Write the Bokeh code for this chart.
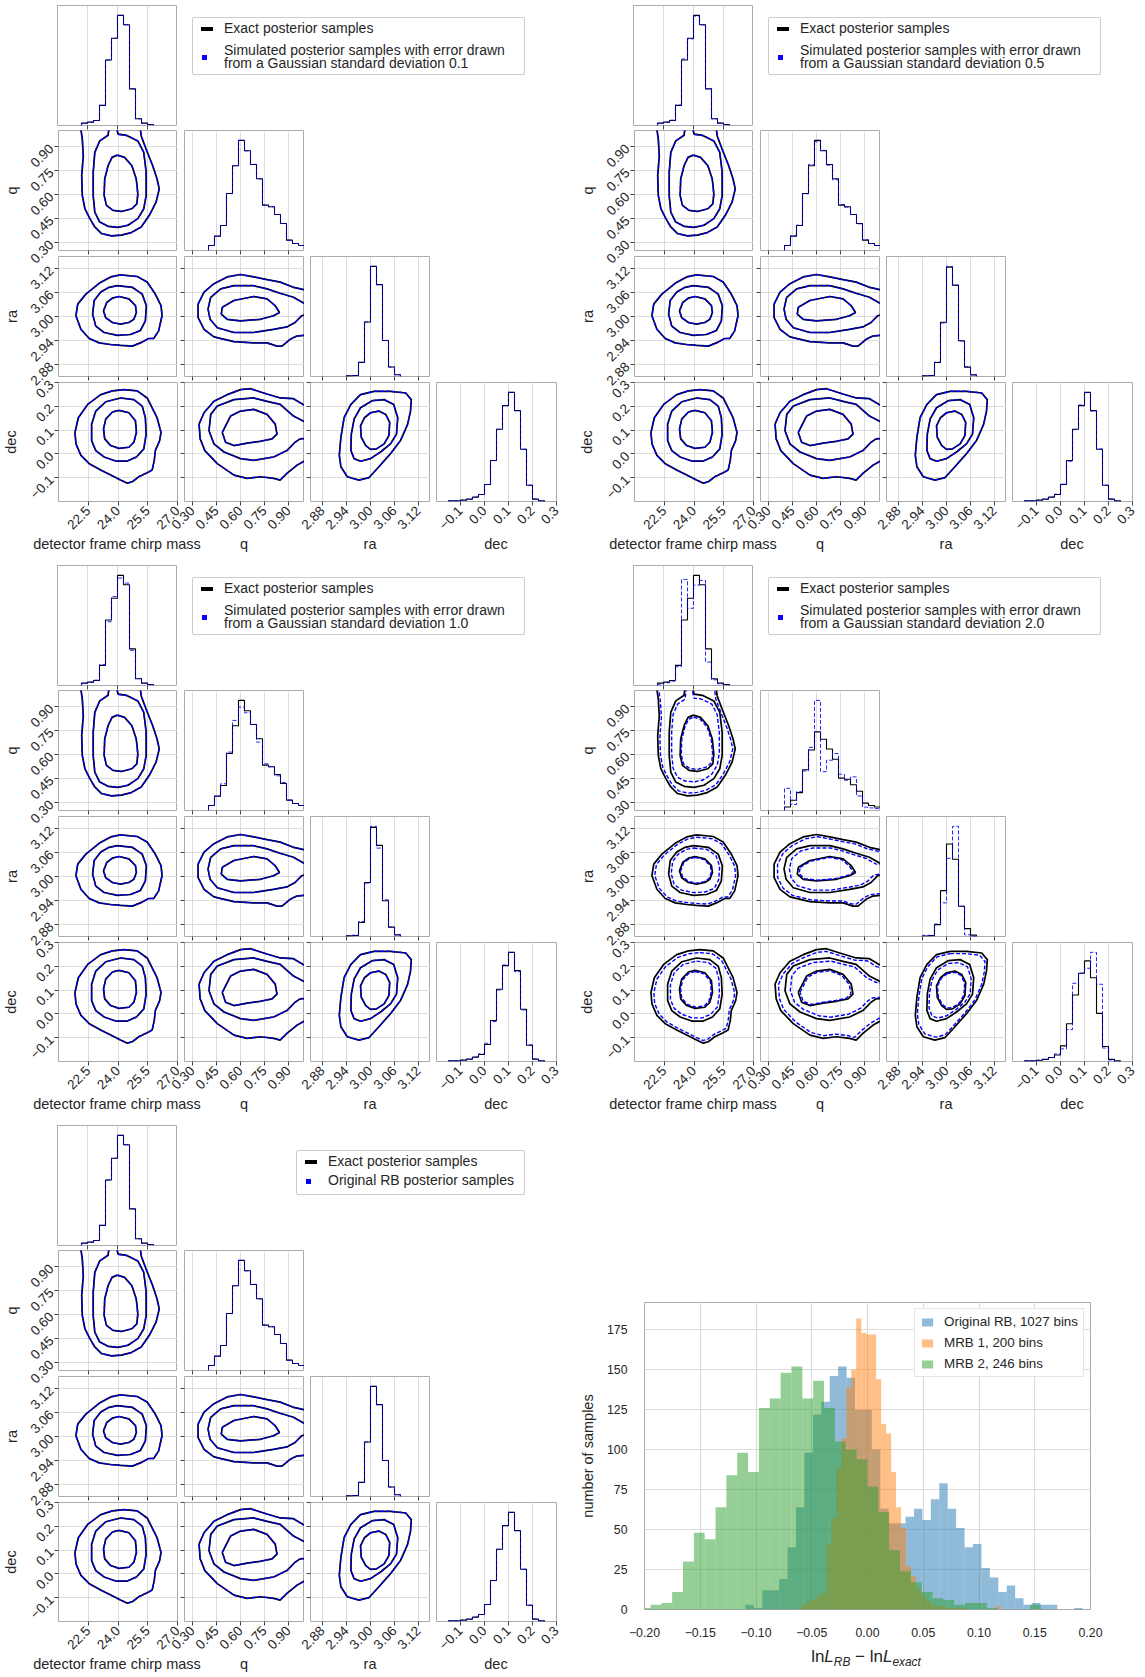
import math
from bokeh.plotting import figure
from bokeh.layouts import row, column
from bokeh.models import (Range1d, FixedTicker, CustomJSTickFormatter, Div, Spacer,
                          Legend, LegendItem)
from bokeh.embed import file_html
from bokeh.resources import INLINE

FONT = "Liberation Sans"
TXT = "#262626"
FRAME = "#aaaaaa"
GRID = "#dcdcdc"
SIM_BLUE = "#0000ff"

# ------------------------------------------------------------------ data
PARAMS = ["mc", "q", "ra", "dec"]
AXIS_LABELS = ["detector frame chirp mass", "q", "ra", "dec"]
RANGE_MC = (21.0, 27.0)
RANGE_Q = (0.25, 1.0)
RANGE_RA = (2.85, 3.15)
RANGE_DEC = (-0.2, 0.3)
TICKS_MC = [22.5, 24.0, 25.5, 27.0]
TICKS_Q = [0.30, 0.45, 0.60, 0.75, 0.90]
TICKS_RA = [2.88, 2.94, 3.00, 3.06, 3.12]
TICKS_DEC = [-0.1, 0.0, 0.1, 0.2, 0.3]
DECIMALS = [1, 2, 2, 1]

# 1-D marginal histograms (bin edges, counts)
MC_EDGES = [22.2, 22.5, 22.8, 23.1, 23.4, 23.7, 24.0, 24.3, 24.6, 24.9, 25.2, 25.5, 25.8]
MC_EXACT = [7, 10, 15, 60, 195, 260, 328, 300, 109, 20, 7, 3]
Q_EDGES = [0.4, 0.4375, 0.475, 0.5125, 0.55, 0.5875, 0.625, 0.6625, 0.7, 0.7375,
           0.775, 0.8125, 0.85, 0.8875, 0.925, 0.9625, 1.0]
Q_EXACT = [15, 43, 75, 171, 254, 330, 299, 258, 215, 136, 131, 108, 81, 31, 21, 15]
RA_EDGES = [2.94, 2.955, 2.97, 2.985, 3.0, 3.015, 3.03, 3.045, 3.06, 3.075]
RA_EXACT = [2, 3, 42, 162, 327, 273, 107, 28, 5]
DEC_EDGES = [-0.15, -0.125, -0.1, -0.075, -0.05, -0.025, 0.0, 0.025, 0.05, 0.075,
             0.1, 0.125, 0.15, 0.175, 0.2, 0.225, 0.25]
DEC_EXACT = [2, 2, 4, 7, 13, 21, 51, 123, 217, 288, 328, 273, 157, 49, 7, 2]

SIM01_MC = [7, 10, 15, 60, 195, 260, 328, 300, 109, 20, 7, 3]
SIM01_Q = [15, 43, 75, 171, 254, 330, 299, 258, 215, 136, 131, 108, 81, 31, 21, 15]
SIM01_RA = [2, 3, 42, 162, 327, 273, 107, 28, 5]
SIM01_DEC = [2, 2, 4, 7, 13, 21, 51, 123, 217, 288, 328, 273, 157, 49, 7, 2]

SIM05_MC = [7, 10, 16, 61, 198, 258, 326, 300, 110, 20, 7, 3]
SIM05_Q = [15, 44, 76, 170, 258, 326, 300, 256, 212, 138, 130, 108, 80, 32, 21, 15]
SIM05_RA = [2, 3, 43, 160, 329, 272, 106, 29, 5]
SIM05_DEC = [2, 2, 4, 7, 13, 22, 52, 121, 216, 290, 327, 272, 158, 49, 7, 2]

SIM10_MC = [7, 10, 16, 62, 190, 265, 320, 305, 105, 21, 7, 3]
SIM10_Q = [15, 43, 80, 175, 270, 310, 293, 258, 205, 140, 131, 104, 84, 31, 21, 15]
SIM10_RA = [2, 4, 45, 160, 330, 265, 110, 28, 5]
SIM10_DEC = [2, 2, 4, 7, 13, 23, 55, 120, 215, 290, 328, 270, 155, 50, 7, 2]

SIM20_MC = [2, 8, 13, 56, 316, 230, 299, 313, 70, 17, 5, 2]
SIM20_Q = [93, 25, 79, 166, 265, 462, 163, 211, 239, 152, 127, 141, 61, 14, 11, 8]
SIM20_RA = [4, 4, 44, 119, 276, 389, 107, 6, 0]
SIM20_DEC = [2, 2, 4, 7, 13, 25, 41, 104, 255, 288, 304, 356, 252, 44, 5, 0]

RB_MC = [7, 10, 15, 60, 195, 260, 328, 300, 109, 20, 7, 3]
RB_Q = [15, 43, 75, 171, 254, 330, 299, 258, 215, 136, 131, 108, 81, 31, 21, 15]
RB_RA = [2, 3, 42, 162, 327, 273, 107, 28, 5]
RB_DEC = [2, 2, 4, 7, 13, 21, 51, 123, 217, 288, 328, 273, 157, 49, 7, 2]

# 2-D credible contours of the exact samples (inner, middle, outer)
MC_Q_INNER = [(23.97, 0.846), (24.33, 0.832), (24.70, 0.780), (24.92, 0.697), (25.00, 0.604),
              (24.95, 0.542), (24.70, 0.511), (24.17, 0.494), (23.75, 0.501), (23.42, 0.532),
              (23.30, 0.594), (23.33, 0.697), (23.50, 0.780), (23.70, 0.832)]
MC_Q_MIDDLE = [(23.58, 1.05), (23.52, 0.99), (23.50, 0.970), (23.08, 0.935), (22.83, 0.863),
               (22.75, 0.739), (22.75, 0.594), (22.83, 0.490), (23.08, 0.428), (23.50, 0.401),
               (24.00, 0.395), (24.50, 0.408), (25.00, 0.449), (25.30, 0.511), (25.42, 0.594),
               (25.42, 0.739), (25.30, 0.863), (25.00, 0.935), (24.42, 0.970), (24.00, 0.977),
               (23.88, 1.05)]
MC_Q_OUTER = [(22.08, 1.05), (22.20, 0.946), (22.25, 0.842), (22.17, 0.718), (22.20, 0.594),
              (22.33, 0.511), (22.58, 0.449), (22.83, 0.397), (23.17, 0.356), (23.67, 0.341),
              (24.17, 0.346), (24.67, 0.362), (25.17, 0.397), (25.58, 0.470), (25.92, 0.552),
              (26.08, 0.635), (25.97, 0.697), (25.75, 0.780), (25.42, 0.883), (25.17, 0.966),
              (25.08, 1.05)]

MC_RA_INNER = [(24.05, 3.050), (24.55, 3.044), (24.88, 3.027), (24.93, 3.010), (24.80, 2.993),
               (24.55, 2.985), (24.13, 2.981), (23.72, 2.985), (23.38, 2.997), (23.27, 3.014),
               (23.43, 3.035), (23.72, 3.046)]
MC_RA_MIDDLE = [(23.97, 3.077), (24.72, 3.073), (25.22, 3.056), (25.43, 3.027), (25.38, 2.989),
                (25.13, 2.965), (24.63, 2.955), (23.97, 2.953), (23.30, 2.960), (22.88, 2.976),
                (22.72, 3.006), (22.80, 3.040), (23.13, 3.061), (23.55, 3.073)]
MC_RA_OUTER = [(24.13, 3.104), (24.97, 3.100), (25.47, 3.086), (25.88, 3.056), (26.17, 3.027),
               (26.22, 3.002), (26.05, 2.964), (25.80, 2.945), (25.55, 2.945), (25.13, 2.934),
               (24.72, 2.926), (24.13, 2.928), (23.63, 2.930), (23.05, 2.934), (22.55, 2.945),
               (22.13, 2.968), (21.88, 3.002), (21.97, 3.031), (22.38, 3.056), (23.05, 3.083),
               (23.63, 3.099)]

MC_DEC_INNER = [(24.05, 0.183), (24.55, 0.173), (24.88, 0.139), (24.93, 0.090), (24.80, 0.049),
                (24.55, 0.028), (24.05, 0.023), (23.63, 0.035), (23.33, 0.063), (23.27, 0.104),
                (23.38, 0.146), (23.72, 0.176)]
MC_DEC_MIDDLE = [(24.13, 0.235), (24.80, 0.228), (25.22, 0.201), (25.38, 0.152), (25.42, 0.083),
                 (25.30, 0.021), (24.93, -0.013), (24.47, -0.030), (23.88, -0.030), (23.30, -0.013),
                 (22.88, 0.014), (22.67, 0.056), (22.67, 0.125), (22.88, 0.180), (23.38, 0.219)]
MC_DEC_OUTER = [(24.30, 0.270), (24.97, 0.265), (25.47, 0.235), (25.97, 0.152), (26.17, 0.090),
                (26.10, 0.056), (25.88, 0.014), (25.83, -0.027), (25.72, -0.068), (25.47, -0.079),
                (25.05, -0.096), (24.72, -0.117), (24.47, -0.123), (24.13, -0.110), (23.63, -0.089),
                (23.13, -0.068), (22.55, -0.041), (22.13, -0.006), (21.88, 0.042), (21.83, 0.090),
                (22.00, 0.152), (22.47, 0.208), (23.13, 0.249), (23.72, 0.265)]

Q_RA_INNER = [(0.486, 3.023), (0.559, 3.040), (0.683, 3.050), (0.766, 3.044), (0.817, 3.027),
              (0.844, 3.010), (0.807, 3.002), (0.724, 2.993), (0.600, 2.989), (0.517, 2.993),
              (0.480, 3.006)]
Q_RA_MIDDLE = [(1.05, 3.030), (0.997, 3.033), (0.931, 3.048), (0.848, 3.058), (0.766, 3.069),
               (0.683, 3.077), (0.559, 3.077), (0.476, 3.069), (0.414, 3.048), (0.397, 3.019),
               (0.410, 2.993), (0.455, 2.972), (0.559, 2.960), (0.683, 2.960), (0.807, 2.968),
               (0.890, 2.974), (0.941, 2.985), (0.983, 3.002), (1.05, 3.006)]
Q_RA_OUTER = [(1.05, 3.065), (0.997, 3.067), (0.931, 3.073), (0.848, 3.086), (0.766, 3.092),
              (0.683, 3.099), (0.600, 3.105), (0.517, 3.099), (0.434, 3.082), (0.372, 3.061),
              (0.335, 3.031), (0.335, 2.997), (0.372, 2.968), (0.434, 2.949), (0.559, 2.937),
              (0.683, 2.934), (0.766, 2.934), (0.828, 2.926), (0.859, 2.926), (0.910, 2.943),
              (0.952, 2.951), (1.05, 2.955)]

Q_DEC_INNER = [(0.486, 0.090), (0.538, 0.159), (0.600, 0.180), (0.683, 0.187), (0.766, 0.166),
               (0.817, 0.125), (0.828, 0.083), (0.797, 0.063), (0.724, 0.053), (0.641, 0.045),
               (0.559, 0.035), (0.507, 0.049)]
Q_DEC_MIDDLE = [(1.05, 0.130), (0.997, 0.136), (0.931, 0.159), (0.848, 0.208), (0.766, 0.221),
                (0.683, 0.235), (0.559, 0.228), (0.455, 0.201), (0.414, 0.166), (0.403, 0.097),
                (0.434, 0.042), (0.497, 0.008), (0.600, -0.020), (0.683, -0.027), (0.807, -0.013),
                (0.890, 0.014), (0.941, 0.049), (0.972, 0.063), (1.05, 0.067)]
Q_DEC_OUTER = [(1.05, 0.200), (0.997, 0.205), (0.931, 0.232), (0.848, 0.235), (0.745, 0.256),
               (0.662, 0.274), (0.600, 0.270), (0.517, 0.249), (0.434, 0.221), (0.372, 0.173),
               (0.341, 0.125), (0.348, 0.063), (0.377, 0.014), (0.455, -0.041), (0.559, -0.089),
               (0.641, -0.103), (0.724, -0.096), (0.807, -0.103), (0.848, -0.110), (0.890, -0.082),
               (0.952, -0.048), (1.05, -0.010)]

RA_DEC_INNER = [(3.000, 0.173), (3.021, 0.180), (3.038, 0.166), (3.048, 0.132), (3.046, 0.077),
                (3.034, 0.042), (3.015, 0.021), (3.000, 0.019), (2.988, 0.035), (2.977, 0.070),
                (2.975, 0.118), (2.985, 0.152)]
RA_DEC_MIDDLE = [(3.005, 0.224), (3.034, 0.228), (3.058, 0.208), (3.068, 0.152), (3.065, 0.083),
                 (3.050, 0.042), (3.025, 0.008), (3.000, -0.020), (2.975, -0.031), (2.959, -0.020),
                 (2.951, 0.015), (2.952, 0.083), (2.959, 0.146), (2.975, 0.194)]
RA_DEC_OUTER = [(3.009, 0.263), (3.050, 0.263), (3.088, 0.256), (3.102, 0.228), (3.100, 0.180),
                (3.093, 0.125), (3.075, 0.056), (3.050, 0.001), (3.021, -0.054), (2.996, -0.100),
                (2.971, -0.110), (2.942, -0.096), (2.926, -0.054), (2.922, -0.006), (2.926, 0.070),
                (2.934, 0.152), (2.951, 0.208), (2.975, 0.249)]

# simulated contours for sigma = 2.0 differ: shrink factors (inner, middle, outer)
SIM20_CONTOUR_SCALE = [0.93, 0.90, 0.94]

# bottom-right histogram of log-likelihood differences
RB_LEFT, RB_WIDTH = -0.1095, 0.00756
RB_COUNTS = [3, 1, 12, 12, 19, 39, 64, 98, 122, 130, 146, 152, 145, 125, 125, 100, 63, 54,
             54, 58, 63, 56, 69, 79, 63, 51, 39, 41, 26, 20, 11, 15, 7, 3, 4, 3, 3, 0, 0, 1]
MRB1_LEFT, MRB1_WIDTH = -0.0592, 0.004464
MRB1_COUNTS = [3, 5, 6, 8, 10, 41, 57, 88, 107, 139, 150, 182, 173, 172, 172, 144, 116, 110,
               86, 64, 51, 27, 21, 13, 9, 5, 3, 2, 2, 1, 1, 1, 1, 0, 0, 0, 0, 0, 0, 2]
MRB2_LEFT, MRB2_WIDTH = -0.2044, 0.00973
MRB2_COUNTS = [1, 3, 4, 11, 30, 48, 44, 64, 84, 98, 86, 126, 132, 148, 152, 132, 143, 126,
               105, 100, 94, 77, 61, 37, 24, 17, 11, 7, 6, 3, 4, 4, 1, 0, 0, 0, 3]
HIST_LABELS = ["Original RB, 1027 bins", "MRB 1, 200 bins", "MRB 2, 246 bins"]
HIST_COLORS = ["#1f77b4", "#ff7f0e", "#2ca02c"]
HIST_XTICKS = [-0.20, -0.15, -0.10, -0.05, 0.0, 0.05, 0.10, 0.15, 0.20]
HIST_YTICKS = [0, 25, 50, 75, 100, 125, 150, 175]

# ------------------------------------------------------------------ tables
RANGES = [RANGE_MC, RANGE_Q, RANGE_RA, RANGE_DEC]
TICKS = [TICKS_MC, TICKS_Q, TICKS_RA, TICKS_DEC]
EDGES = [MC_EDGES, Q_EDGES, RA_EDGES, DEC_EDGES]
EXACT = [MC_EXACT, Q_EXACT, RA_EXACT, DEC_EXACT]
CONTOURS = {
    (0, 1): [(MC_Q_INNER, True), (MC_Q_MIDDLE, False), (MC_Q_OUTER, False)],
    (0, 2): [(MC_RA_INNER, True), (MC_RA_MIDDLE, True), (MC_RA_OUTER, True)],
    (0, 3): [(MC_DEC_INNER, True), (MC_DEC_MIDDLE, True), (MC_DEC_OUTER, True)],
    (1, 2): [(Q_RA_INNER, True), (Q_RA_MIDDLE, False), (Q_RA_OUTER, False)],
    (1, 3): [(Q_DEC_INNER, True), (Q_DEC_MIDDLE, False), (Q_DEC_OUTER, False)],
    (2, 3): [(RA_DEC_INNER, True), (RA_DEC_MIDDLE, True), (RA_DEC_OUTER, True)],
}

SIM_TEXT = "Simulated posterior samples with error drawn<br>from a Gaussian standard deviation {}"
CORNERS = [
    dict(sim=[SIM01_MC, SIM01_Q, SIM01_RA, SIM01_DEC], scale=None,
         items=[("bar", 11, "Exact posterior samples"), ("sq", 39, SIM_TEXT.format("0.1"))],
         box=(333, 58), pad=20, lab_h=24),
    dict(sim=[SIM05_MC, SIM05_Q, SIM05_RA, SIM05_DEC], scale=None,
         items=[("bar", 11, "Exact posterior samples"), ("sq", 39, SIM_TEXT.format("0.5"))],
         box=(333, 58), pad=13, lab_h=24),
    dict(sim=[SIM10_MC, SIM10_Q, SIM10_RA, SIM10_DEC], scale=None,
         items=[("bar", 11, "Exact posterior samples"), ("sq", 39, SIM_TEXT.format("1.0"))],
         box=(333, 58), pad=20, lab_h=24),
    dict(sim=[SIM20_MC, SIM20_Q, SIM20_RA, SIM20_DEC], scale=SIM20_CONTOUR_SCALE,
         items=[("bar", 11, "Exact posterior samples"), ("sq", 39, SIM_TEXT.format("2.0"))],
         box=(333, 58), pad=13, lab_h=24),
    dict(sim=[RB_MC, RB_Q, RB_RA, RB_DEC], scale=None,
         items=[("bar", 11, "Exact posterior samples"), ("sq", 30, "Original RB posterior samples")],
         box=(229, 45), pad=20, lab_h=21),
]

# ------------------------------------------------------------------ helpers
FRAME_SIZE = 120
COL_LEFT = [57, 7, 6, 6]
BOTTOM_ROW_BORDER = 34


def num_fmt(dec):
    return CustomJSTickFormatter(
        code=f"const s = Math.abs(tick).toFixed({dec}); return (tick < -1e-9 ? '\\u2212' : '') + s;")


def style_axis(ax, ticks, dec, show):
    ax.ticker = FixedTicker(ticks=ticks)
    ax.axis_line_color = None
    ax.major_tick_line_color = "#444444"
    ax.major_tick_out = 4
    ax.major_tick_in = 0
    ax.minor_tick_line_color = None
    ax.major_label_text_font = FONT
    ax.major_label_text_color = TXT
    ax.axis_label_text_font = FONT
    ax.axis_label_text_font_style = "normal"
    ax.axis_label_text_font_size = "14.5px"
    ax.axis_label_text_color = TXT
    if show:
        ax.formatter = num_fmt(dec)
        ax.major_label_text_font_size = "13.5px"
        ax.major_label_orientation = math.pi / 4
        ax.major_label_standoff = 3
    else:
        ax.formatter = CustomJSTickFormatter(code="return '';")
        ax.major_label_text_font_size = "0px"
        ax.major_label_standoff = 0


def step_xy(edges, counts):
    xs, ys = [edges[0]], [0]
    for i, c in enumerate(counts):
        xs += [edges[i], edges[i + 1]]
        ys += [c, c]
    xs.append(edges[-1])
    ys.append(0)
    return xs, ys


def scaled(pts, s):
    cx = sum(p[0] for p in pts) / len(pts)
    cy = sum(p[1] for p in pts) / len(pts)
    return [(cx + (x - cx) * s, cy + (y - cy) * s) for x, y in pts]


def panel(cfg, r, c):
    diag = r == c
    left = COL_LEFT[c]
    top = 5 if r == 0 else 0
    bottom = BOTTOM_ROW_BORDER if r == 3 else (5 if r == 0 else 6)
    # extra transparent canvas (overlapping neighbours) so rotated tick labels are not cut
    ext_b = 16 if r in (1, 2) else 0
    ext_t = 8 if r == 3 else 0
    ext_l = 12 if (r == 3 and c >= 1) else 0
    ext_r = 6 if (r == 3 and c in (0, 3)) else 0
    if diag:
        ymax = 1.09 * max(max(EXACT[c]), max(cfg["sim"][c]))
        yr = Range1d(0, ymax)
    else:
        yr = Range1d(*RANGES[r])
    p = figure(width=left + ext_l + FRAME_SIZE + ext_r,
               height=top + ext_t + FRAME_SIZE + bottom + ext_b,
               x_range=Range1d(*RANGES[c]), y_range=yr,
               output_backend="svg", toolbar_location=None,
               y_axis_location=None if diag else "left",
               min_border_left=left + ext_l, min_border_right=ext_r,
               min_border_top=top + ext_t, min_border_bottom=bottom + ext_b,
               margin=(-ext_t, -ext_r, -ext_b, -ext_l), frame_align=False)
    p.outline_line_color = FRAME
    p.outline_line_width = 1
    p.background_fill_color = "white"
    p.border_fill_alpha = 0.0
    style_axis(p.xaxis[0], TICKS[c], DECIMALS[c], r == 3)
    p.xgrid.grid_line_color = GRID
    p.xgrid.grid_line_width = 1
    if diag:
        p.ygrid.visible = False
        xs, ys = step_xy(EDGES[c], EXACT[c])
        p.line(xs, ys, line_color="black", line_width=1.1)
        xs, ys = step_xy(EDGES[c], cfg["sim"][c])
        p.line(xs, ys, line_color=SIM_BLUE, line_width=1.0, line_dash="4 2", line_alpha=0.85)
    else:
        style_axis(p.yaxis[0], TICKS[r], DECIMALS[r], c == 0)
        p.ygrid.grid_line_color = GRID
        p.ygrid.grid_line_width = 1
        if c == 0:
            p.yaxis.axis_label = AXIS_LABELS[r]
            p.yaxis.axis_label_standoff = 4
        levels = CONTOURS[(c, r)]
        for pts, closed in levels:
            pp = pts + [pts[0]] if closed else pts
            p.line([q[0] for q in pp], [q[1] for q in pp], line_color="black", line_width=1.7)
        for k, (pts, closed) in enumerate(levels):
            pp = pts + [pts[0]] if closed else pts
            if cfg["scale"] is not None:
                pp = scaled(pp, cfg["scale"][k])
            p.line([q[0] for q in pp], [q[1] for q in pp], line_color=SIM_BLUE,
                   line_width=1.4, line_dash="4 2")
    return p


def legend_div(cfg, width, height):
    bw, bh = cfg["box"]
    parts = []
    for kind, cy, html in cfg["items"]:
        if kind == "bar":
            sw = (f'<div style="position:absolute;left:8px;top:{cy - 2}px;width:12px;height:4px;'
                  f'background:#000;"></div>')
        else:
            sw = (f'<div style="position:absolute;left:9px;top:{cy - 2.5}px;width:5px;height:5px;'
                  f'background:{SIM_BLUE};"></div>')
        n = html.count("<br>") + 1
        lh = 13.4
        parts.append(sw + f'<div style="position:absolute;left:31px;top:{cy - n * lh / 2:.1f}px;'
                          f'line-height:{lh}px;font-size:14px;white-space:nowrap;color:{TXT};">{html}</div>')
    box = (f'<div style="position:absolute;left:{348 - bw}px;top:{75 - bh}px;width:{bw}px;'
           f'height:{bh}px;box-sizing:border-box;border:1px solid #cccccc;border-radius:2px;'
           f'background:#fff;">' + "".join(parts) + '</div>')
    text = (f'<div style="position:relative;width:{width}px;height:{height}px;'
            f'font-family:\'{FONT}\',sans-serif;">{box}</div>')
    return Div(text=text, width=width, height=height, margin=0)


def xlabels_div(width, height):
    centers = [57 + 60, 184 + 60, 310 + 60, 436 + 60]
    spans = "".join(
        f'<div style="position:absolute;left:{cx}px;top:0px;transform:translateX(-50%);'
        f'white-space:nowrap;font-size:14.5px;line-height:17px;color:{TXT};">{lab}</div>'
        for cx, lab in zip(centers, AXIS_LABELS))
    text = (f'<div style="position:relative;width:{width}px;height:{height}px;'
            f'font-family:\'{FONT}\',sans-serif;">{spans}</div>')
    return Div(text=text, width=width, height=height, margin=0)


def corner(cfg):
    pad = cfg["pad"]
    r0 = row(panel(cfg, 0, 0), legend_div(cfg, 379 + pad, 130))
    r1 = row(panel(cfg, 1, 0), panel(cfg, 1, 1), Spacer(width=252 + pad, height=126))
    r2 = row(panel(cfg, 2, 0), panel(cfg, 2, 1), panel(cfg, 2, 2), Spacer(width=126 + pad, height=126))
    r3 = row(panel(cfg, 3, 0), panel(cfg, 3, 1), panel(cfg, 3, 2), panel(cfg, 3, 3),
             Spacer(width=pad, height=120 + BOTTOM_ROW_BORDER))
    return column(r0, r1, r2, r3, xlabels_div(556 + pad, cfg["lab_h"]))


def loglike_hist():
    h = figure(width=569, height=519, x_range=Range1d(-0.2, 0.2), y_range=Range1d(0, 192),
               output_backend="svg", toolbar_location=None,
               min_border_left=66, min_border_right=55, min_border_top=182, min_border_bottom=28)
    h.outline_line_color = FRAME
    h.background_fill_color = "white"
    for ax, ticks, dec in ((h.xaxis[0], HIST_XTICKS, 2), (h.yaxis[0], HIST_YTICKS, 0)):
        ax.ticker = FixedTicker(ticks=ticks)
        ax.formatter = num_fmt(dec)
        ax.axis_line_color = None
        ax.major_tick_line_color = None
        ax.minor_tick_line_color = None
        ax.major_label_text_font = FONT
        ax.major_label_text_font_size = "12.3px"
        ax.major_label_text_color = TXT
        ax.axis_label_text_font = FONT
        ax.axis_label_text_font_style = "normal"
        ax.axis_label_text_font_size = "14.5px"
        ax.axis_label_text_color = TXT
    h.xaxis.major_label_standoff = 12
    h.yaxis.major_label_standoff = 11
    h.yaxis.axis_label = "number of samples"
    h.yaxis.axis_label_standoff = 8
    h.xgrid.grid_line_color = GRID
    h.ygrid.grid_line_color = GRID
    h.xgrid.grid_line_width = 1.2
    h.ygrid.grid_line_width = 1.2
    items = []
    for (left0, w, counts), label, color in zip(
            [(RB_LEFT, RB_WIDTH, RB_COUNTS), (MRB1_LEFT, MRB1_WIDTH, MRB1_COUNTS),
             (MRB2_LEFT, MRB2_WIDTH, MRB2_COUNTS)], HIST_LABELS, HIST_COLORS):
        lefts = [left0 + i * w for i in range(len(counts))]
        rights = [l + w for l in lefts]
        rr = h.quad(left=lefts, right=rights, bottom=0, top=counts,
                    fill_color=color, fill_alpha=0.5, line_color=None)
        items.append(LegendItem(label=label, renderers=[rr]))
    leg = Legend(items=items, location="top_right", margin=6, padding=5,
                 glyph_width=14, glyph_height=10, label_height=10, spacing=6,
                 label_standoff=10, label_text_font=FONT, label_text_font_size="13.4px",
                 label_text_color=TXT, border_line_color="#cccccc", border_line_width=1,
                 background_fill_alpha=1.0)
    h.add_layout(leg)
    xlabel = Div(text=(f'<div style="width:448px;text-align:center;padding-top:8px;'
                       f'font-family:\'{FONT}\',sans-serif;font-size:17px;line-height:20px;color:{TXT};">'
                       'ln<i>L</i><sub style="font-size:70%;"><i>RB</i></sub> &minus; '
                       'ln<i>L</i><sub style="font-size:70%;"><i>exact</i></sub></div>'),
                 width=448, height=38, margin=0)
    return column(h, row(Spacer(width=66, height=38), xlabel))


page = column(
    row(corner(CORNERS[0]), corner(CORNERS[1])),
    row(corner(CORNERS[2]), corner(CORNERS[3])),
    row(corner(CORNERS[4]), loglike_hist()),
)

html = file_html(page, INLINE, title="corner plots")
html = html.replace("<head>", "<head><style>html,body{margin:0;padding:0;}</style>", 1)
open("out.html", "w").write(html)
